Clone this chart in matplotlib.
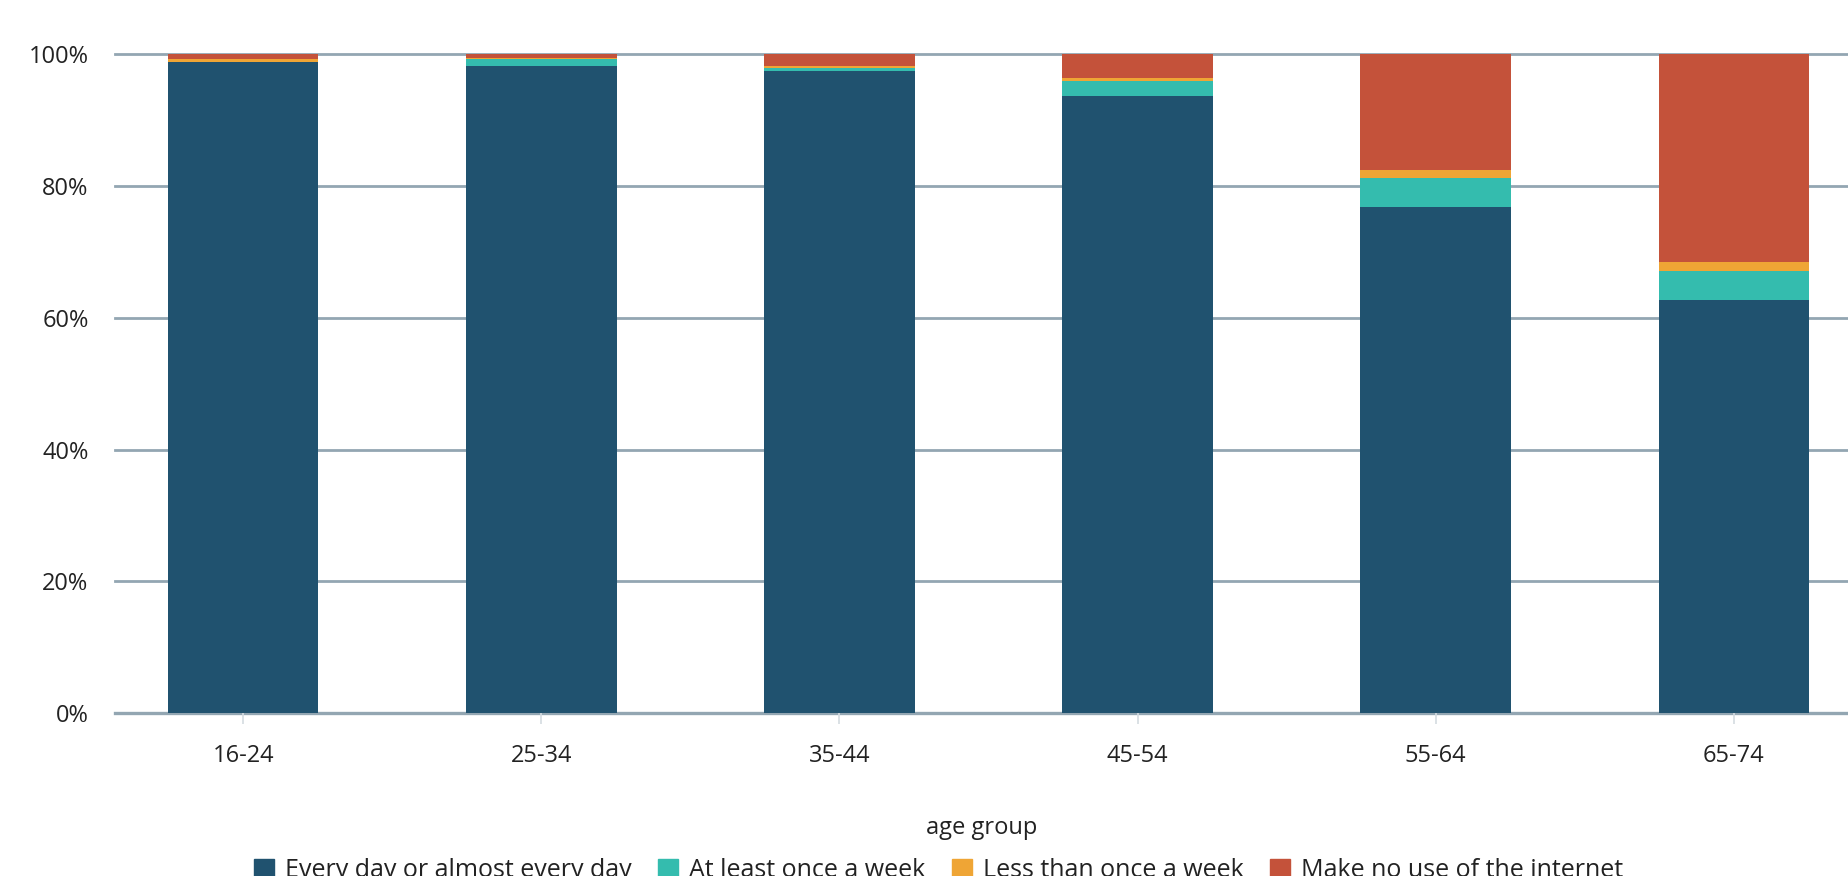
import numpy as np
import matplotlib
matplotlib.use("Agg")
import matplotlib.pyplot as plt
from matplotlib.patches import FancyBboxPatch

plt.rcParams['font.family'] = ['Open Sans', 'DejaVu Sans']

age_groups = ["16-24", "25-34", "35-44", "45-54", "55-64", "65-74"]
every_day = [98.8, 98.3, 97.4, 93.6, 76.8, 62.7]
weekly = [0.1, 1.0, 0.5, 2.3, 4.4, 4.4]
less_weekly = [0.4, 0.1, 0.4, 0.5, 1.2, 1.3]
no_use = [0.7, 0.6, 1.7, 3.6, 17.6, 31.6]

series = [
    ("Every day or almost every day", every_day, "#20526f"),
    ("At least once a week", weekly, "#34bcae"),
    ("Less than once a week", less_weekly, "#efa535"),
    ("Make no use of the internet", no_use, "#c4523a"),
]

fig = plt.figure(figsize=(18.48, 8.76), dpi=100)
ax = fig.add_axes([0.0622, 0.186, 0.9378, 0.752])

x = np.arange(len(age_groups))
bottom = np.zeros(len(age_groups))
for name, vals, col in series:
    ax.bar(x, vals, width=0.505, bottom=bottom, color=col, label=name, zorder=2)
    bottom += np.array(vals)

ax.set_ylim(0, 100)
ax.set_xlim(-0.43, 5.383)

yticks = [0, 20, 40, 60, 80, 100]
for yv in yticks:
    ax.axhline(yv, color="#93a6b2", lw=2.0 if yv else 2.4, zorder=1, clip_on=False)
ax.set_yticks(yticks)
ax.set_yticklabels([f"{v}%" for v in yticks])
ax.set_xticks(x)
ax.set_xticklabels(age_groups)

for s in ax.spines.values():
    s.set_visible(False)
ax.tick_params(axis="y", length=0, pad=19, labelsize=17, labelcolor="#222222")
ax.tick_params(axis="x", length=8, width=1.2, color="#d4dbe0", pad=14,
               labelsize=17, labelcolor="#222222")
ax.set_xlabel("age group", fontsize=17, color="#222222", labelpad=35)

handles = [FancyBboxPatch((0, 0), 1, 1, boxstyle="round,pad=0.1", color=c)
           for _, _, c in series]
fig.legend(handles, [s[0] for s in series], loc="center", ncol=4,
           bbox_to_anchor=(0.508, 0.006), frameon=False, fontsize=18,
           handlelength=0.8, handleheight=0.8, handletextpad=0.45,
           columnspacing=1.05, labelcolor="#222222")

fig.savefig("out.png", dpi=100)
